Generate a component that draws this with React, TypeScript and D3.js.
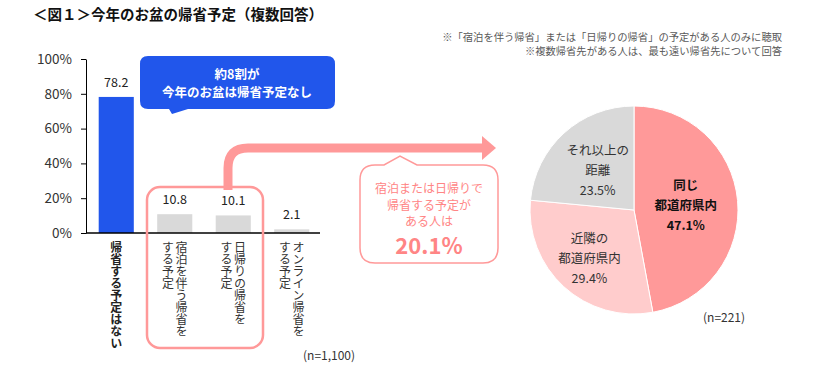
import React, { useEffect, useRef } from "react";
import * as d3 from "d3";

const categoryLines = [
  ["帰省する予定はない"],
  ["宿泊を伴う帰省を", "する予定"],
  ["日帰りの帰省を", "する予定"],
  ["オンライン帰省を", "する予定"],
];
const values = [78.2, 10.8, 10.1, 2.1];
const yTicks = [0, 20, 40, 60, 80, 100];

const pieLabels = [
  ["同じ", "都道府県内"],
  ["近隣の", "都道府県内"],
  ["それ以上の", "距離"],
];
const pieValues = [47.1, 29.4, 23.5];

const FONT = "'Noto Sans CJK JP', 'Noto Sans', sans-serif";
const BLUE = "#2156EB";
const PINK = "#FF9999";

const App = () => {
  const ref = useRef<SVGSVGElement>(null);

  useEffect(() => {
    const svg = d3.select(ref.current);
    svg.selectAll("*").remove();
    svg.style("font-family", FONT);

    // title + notes
    svg.append("text").attr("x", 33).attr("y", 20)
      .attr("font-size", 14.5).attr("font-weight", "bold").attr("fill", "#111")
      .text("＜図１＞今年のお盆の帰省予定（複数回答）");
    const notes = [
      "※「宿泊を伴う帰省」または「日帰りの帰省」の予定がある人のみに聴取",
      "※複数帰省先がある人は、最も遠い帰省先について回答",
    ];
    notes.forEach((t, i) => {
      svg.append("text").attr("x", 782).attr("y", 41 + i * 13.5)
        .attr("text-anchor", "end").attr("font-size", 10.3).attr("fill", "#595959")
        .text(t);
    });

    // ---- bar chart
    const x = d3.scaleBand<number>()
      .domain(d3.range(values.length))
      .range([87, 321])
      .paddingInner(0.4)
      .paddingOuter(0.2);
    const y = d3.scaleLinear().domain([0, 100]).range([233, 59]);

    // connector arrow (behind everything)
    const cx = 228, hy = 148, r = 20;
    svg.append("path")
      .attr("d", `M${cx},190 L${cx},${hy + r} Q${cx},${hy} ${cx + r},${hy} L486,${hy}`)
      .attr("fill", "none").attr("stroke", PINK).attr("stroke-width", 9);
    svg.append("path")
      .attr("d", `M482,${hy - 12} L496,${hy} L482,${hy + 12} Z`)
      .attr("fill", PINK);

    const yAxis = svg.append("g")
      .attr("transform", "translate(86,0)")
      .call(d3.axisLeft(y).tickValues(yTicks).tickSize(5).tickSizeOuter(0).tickFormat((d) => `${d}%`));
    yAxis.select(".domain").attr("stroke", "#000");
    yAxis.selectAll(".tick line").attr("stroke", "#000");
    yAxis.selectAll("text").attr("font-family", FONT).attr("font-size", 13.5)
      .attr("fill", "#333").attr("x", -14);

    svg.selectAll(".bar")
      .data(values)
      .enter()
      .append("rect")
      .attr("class", "bar")
      .attr("x", (_, i) => x(i)!)
      .attr("y", (d) => y(d))
      .attr("width", x.bandwidth())
      .attr("height", (d) => y(0) - y(d))
      .attr("fill", (_, i) => (i === 0 ? BLUE : "#D9D9D9"));

    svg.append("line").attr("x1", 86).attr("x2", 320).attr("y1", y(0)).attr("y2", y(0))
      .attr("stroke", "#000").attr("stroke-width", 1.3);

    svg.selectAll(".val")
      .data(values)
      .enter()
      .append("text")
      .attr("x", (_, i) => x(i)! + x.bandwidth() / 2)
      .attr("y", (d) => y(d) - 10)
      .attr("text-anchor", "middle").attr("font-size", 12.5).attr("fill", "#222")
      .text((d) => d.toFixed(1));

    // vertical category labels
    categoryLines.forEach((lines, i) => {
      const c = x(i)! + x.bandwidth() / 2;
      lines.forEach((ln, j) => {
        const off = (lines.length - 1) / 2 * 13.5 - j * 13.5;
        svg.append("text")
          .attr("x", c + off).attr("y", 241)
          .style("writing-mode", "vertical-rl")
          .attr("font-size", 12)
          .attr("font-weight", i === 0 ? "bold" : "normal")
          .attr("fill", i === 0 ? "#222" : "#333")
          .text(ln);
      });
    });

    // pink frame around bars 2,3
    svg.append("rect").attr("x", 147).attr("y", 187).attr("width", 116).attr("height", 161)
      .attr("rx", 13).attr("fill", "none").attr("stroke", PINK).attr("stroke-width", 2.5);

    svg.append("text").attr("x", 303).attr("y", 360).attr("font-size", 12).attr("fill", "#333")
      .text("(n=1,100)");

    // blue callout
    svg.append("path")
      .attr("d", "M148,56 L327,56 Q335,56 335,64 L335,101 Q335,109 327,109 L188,109 L172,114 L169,109 L148,109 Q140,109 140,101 L140,64 Q140,56 148,56 Z")
      .attr("fill", BLUE);
    svg.append("text").attr("x", 237).attr("y", 79).attr("text-anchor", "middle")
      .attr("font-size", 12.5).attr("font-weight", "bold").attr("fill", "#fff").text("約8割が");
    svg.append("text").attr("x", 237).attr("y", 97).attr("text-anchor", "middle")
      .attr("font-size", 12.5).attr("font-weight", "bold").attr("fill", "#fff").text("今年のお盆は帰省予定なし");

    // pink callout
    svg.append("path")
      .attr("d", "M375,165 L384,165 L400,156 L417,165 L483,165 Q498,165 498,180 L498,248 Q498,263 483,263 L375,263 Q360,263 360,248 L360,180 Q360,165 375,165 Z")
      .attr("fill", "#fff").attr("stroke", PINK).attr("stroke-width", 1.5);
    ["宿泊または日帰りで", "帰省する予定が", "ある人は"].forEach((t, i) => {
      svg.append("text").attr("x", 429).attr("y", 193 + i * 16.5).attr("text-anchor", "middle")
        .attr("font-size", 12).attr("fill", "#FF8585").text(t);
    });
    svg.append("text").attr("x", 429).attr("y", 254).attr("text-anchor", "middle")
      .attr("font-size", 22).attr("font-weight", "bold").attr("fill", "#FF8585").text("20.1%");

    // ---- pie
    const pcx = 634, pcy = 210, R = 104;
    const pie = d3.pie<number>().sort(null).value((d) => d);
    const arcs = pie(pieValues);
    const arc = d3.arc<d3.PieArcDatum<number>>().innerRadius(0).outerRadius(R);
    const colors = [PINK, "#FFCCCC", "#D9D9D9"];
    const labelR = [52, 66, 54];
    const pg = svg.append("g").attr("transform", `translate(${pcx},${pcy})`);
    pg.selectAll("path")
      .data(arcs)
      .enter()
      .append("path")
      .attr("d", arc)
      .attr("fill", (_, i) => colors[i])
      .attr("stroke", "#fff").attr("stroke-width", 1);

    arcs.forEach((a, i) => {
      const c = d3.arc<d3.PieArcDatum<number>>().innerRadius(labelR[i]).outerRadius(labelR[i]).centroid(a);
      const lines = [...pieLabels[i], `${pieValues[i].toFixed(1)}%`];
      lines.forEach((ln, j) => {
        pg.append("text")
          .attr("x", c[0]).attr("y", c[1] + (j - 1) * 20 + 4.5)
          .attr("text-anchor", "middle").attr("font-size", 12.5)
          .attr("font-weight", i === 0 ? "bold" : "normal")
          .attr("fill", i === 0 ? "#111" : "#333")
          .text(ln);
      });
    });

    svg.append("text").attr("x", 703).attr("y", 322).attr("font-size", 12).attr("fill", "#333")
      .text("(n=221)");
  }, []);

  return (
    <svg
      ref={ref}
      width={820}
      height={371}
      style={{ position: "absolute", left: 0, top: 0, background: "#fff" }}
    ></svg>
  );
};

export default App;
